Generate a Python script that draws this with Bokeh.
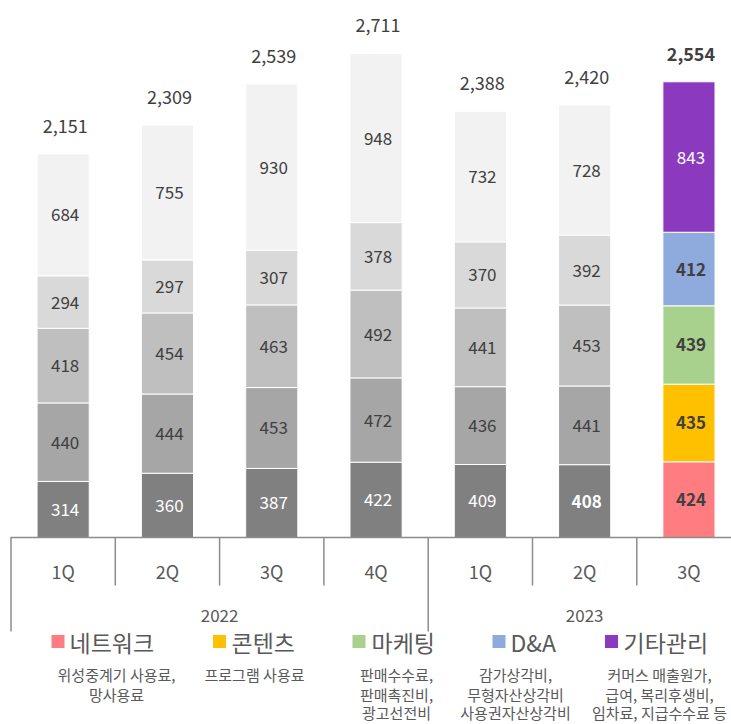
from bokeh.plotting import figure
from bokeh.models import Range1d, ColumnDataSource
from bokeh.core.properties import value
from bokeh.embed import file_html
from bokeh.resources import INLINE

# ---------------- data ----------------
years = ["2022", "2022", "2022", "2022", "2023", "2023", "2023"]
quarters = ["1Q", "2Q", "3Q", "4Q", "1Q", "2Q", "3Q"]
network = [314, 360, 387, 422, 409, 408, 424]
content = [440, 444, 453, 472, 436, 441, 435]
marketing = [418, 454, 463, 492, 441, 453, 439]
dna = [294, 297, 307, 378, 370, 392, 412]
other = [684, 755, 930, 948, 732, 728, 843]
totals = [2151, 2309, 2539, 2711, 2388, 2420, 2554]

series_names = ["네트워크", "콘텐츠", "마케팅", "D&A", "기타관리"]
series_desc = [
    ["위성중계기 사용료,", "망사용료"],
    ["프로그램 사용료"],
    ["판매수수료,", "판매촉진비,", "광고선전비"],
    ["감가상각비,", "무형자산상각비", "사용권자산상각비"],
    ["커머스 매출원가,", "급여, 복리후생비,", "임차료, 지급수수료 등"],
]

# ---------------- styles ----------------
series_colors = ["#FF7C80", "#FFC000", "#A9D18E", "#8FAADC", "#8B3AC0"]
gray_colors = ["#808080", "#A6A6A6", "#BFBFBF", "#D9D9D9", "#F2F2F2"]
FONT = value("Noto Sans CJK KR")
DARK = "#404040"
MUTED = "#595959"
LINE = "#8C8C8C"

# ---------------- geometry (figure pixels) ----------------
W, H = 731, 724
X0 = 10.5       # first category boundary
CAT = 104.3     # category width
Y0 = 537        # baseline
K = 0.1785      # px per unit


def fx(px):
    return (px - X0) / CAT


def fy(py):
    return (Y0 - py) / K


p = figure(width=W, height=H, output_backend="svg", toolbar_location=None,
           x_range=Range1d(fx(0), fx(W)), y_range=Range1d(fy(H), fy(0)),
           min_border=0, x_axis_location=None, y_axis_location=None)
p.grid.visible = False
p.outline_line_color = None
p.background_fill_color = None
p.border_fill_color = "white"

n = len(quarters)
centers = [i + 0.5 for i in range(n)]
highlight = n - 1
stack = [network, content, marketing, dna, other]

bx, bb, bt, bc = [], [], [], []
lx, ly, lt, lc, ls = [], [], [], [], []
for i in range(n):
    base = 0
    for s, vals in enumerate(stack):
        v = vals[i]
        bx.append(centers[i])
        bb.append(base)
        bt.append(base + v)
        bc.append(series_colors[s] if i == highlight else gray_colors[s])
        lx.append(centers[i] + 2 / CAT)
        ly.append(base + v / 2)
        lt.append(f"{v:,}")
        if i == highlight:
            lc.append("white" if s == 4 else DARK)
            ls.append("normal" if s == 4 else "bold")
        else:
            lc.append("white" if s == 0 else DARK)
            ls.append("bold" if (s == 0 and i == 5) else "normal")
        base += v

p.vbar(x=bx, bottom=bb, top=bt, width=0.5, fill_color=bc,
       line_color="white", line_width=1)

p.text(source=ColumnDataSource(dict(x=lx, y=ly, t=lt, c=lc, s=ls)),
       x="x", y="y", text="t", text_color="c", text_font_style="s",
       text_font=FONT, text_font_size="17px", text_align="center",
       text_baseline="middle")

# totals
tops = [sum(vals[i] for vals in stack) for i in range(n)]
p.text(x=[c + 2 / CAT for c in centers], y=[t + 28 / K for t in tops],
       text=[f"{t:,}" for t in totals],
       text_color=[DARK] * n,
       text_font_style=["bold" if i == highlight else "normal" for i in range(n)],
       text_font=FONT, text_font_size="18px", text_align="center",
       text_baseline="middle")

# category axis (Excel style)
p.segment(x0=[fx(10)], y0=[0], x1=[fx(W)], y1=[0], line_color=LINE, line_width=1.5)
dx0, dy0, dx1, dy1 = [], [], [], []
for i in range(n + 1):
    long_line = (i == 0) or (i < n and years[i] != years[i - 1])
    dx0.append(i)
    dx1.append(i)
    dy0.append(0)
    dy1.append(fy(631) if long_line else fy(585))
p.segment(x0=dx0, y0=dy0, x1=dx1, y1=dy1, line_color=LINE, line_width=1.5)

p.text(x=centers, y=[fy(570)] * n, text=quarters, text_color=MUTED,
       text_font=FONT, text_font_size="18px", text_align="center",
       text_baseline="middle")

uniq_years = []
for y in years:
    if y not in uniq_years:
        uniq_years.append(y)
yx = []
for y in uniq_years:
    idx = [i for i in range(n) if years[i] == y]
    yx.append((idx[0] + idx[-1] + 1) / 2)
p.text(x=yx, y=[fy(615)] * len(yx), text=uniq_years, text_color=MUTED,
       text_font=FONT, text_font_size="17px", text_align="center",
       text_baseline="middle")

# legend
sq_x = [57.5, 219, 358.5, 498.5, 611]
tx_x = [69, 231, 371, 510, 623]
desc_x = [116, 254, 396, 515, 659]
leg_y = fy(641)
p.scatter(x=[fx(v) for v in sq_x], y=[leg_y] * 5, marker="square", size=13,
          fill_color=series_colors, line_color=None)
p.text(x=[fx(v) for v in tx_x], y=[leg_y] * 5, text=series_names,
       text_color=MUTED, text_font=FONT, text_font_size="23px",
       text_align="left", text_baseline="middle")

line_y = [674, 694, 712]
ddx, ddy, ddt = [], [], []
for s, lines in enumerate(series_desc):
    for j, t in enumerate(lines):
        ddx.append(fx(desc_x[s]))
        ddy.append(fy(line_y[j]))
        ddt.append(t)
p.text(x=ddx, y=ddy, text=ddt, text_color=MUTED, text_font=FONT,
       text_font_size="15px", text_align="center", text_baseline="middle")

open("out.html", "w").write(file_html(p, INLINE))
